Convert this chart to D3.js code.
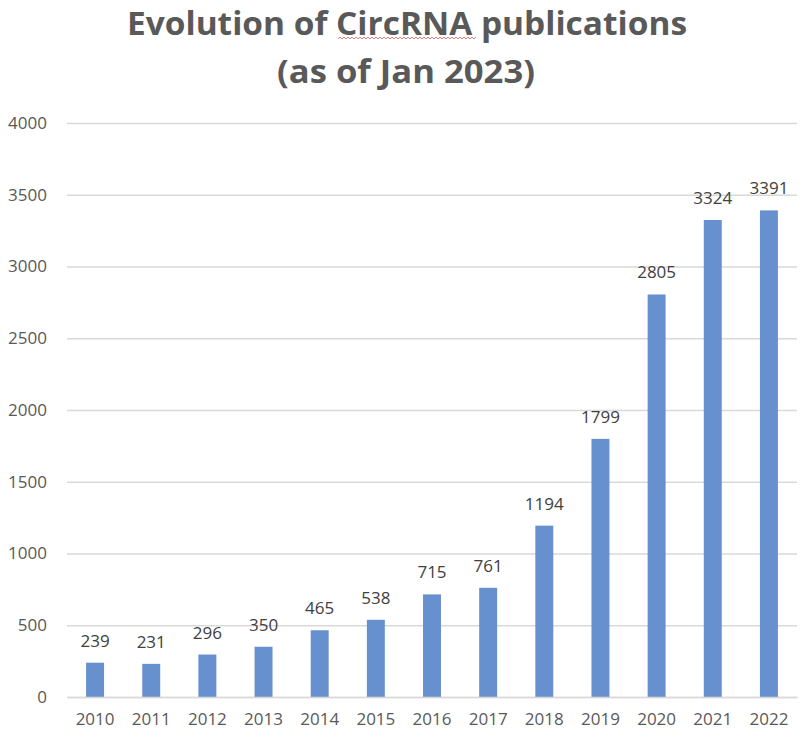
<!DOCTYPE html>
<html>
<head>
<meta charset="utf-8">
<script src="https://cdn.jsdelivr.net/npm/d3@7"></script>
<style>
  body { margin: 0; background: #fff; }
  svg { display: block; font-family: "Open Sans", sans-serif; }
</style>
</head>
<body>
<div id="chart"></div>
<script>
// data
const years = ["2010", "2011", "2012", "2013", "2014", "2015", "2016",
               "2017", "2018", "2019", "2020", "2021", "2022"];
const publications = [239, 231, 296, 350, 465, 538, 715, 761, 1194, 1799, 2805, 3324, 3391];
const yTicks = [0, 500, 1000, 1500, 2000, 2500, 3000, 3500, 4000];

const width = 812, height = 740;
const plotLeft = 67, plotRight = 797, plotTop = 123, plotBottom = 697;

const svg = d3.select("#chart").append("svg")
    .attr("width", width)
    .attr("height", height);

// title (two lines)
const title = svg.append("g")
    .attr("fill", "#595959")
    .attr("font-weight", "bold")
    .attr("font-size", 32);
title.append("text")
    .attr("x", 127).attr("y", 35)
    .attr("textLength", 560)
    .attr("lengthAdjust", "spacingAndGlyphs")
    .text("Evolution of CircRNA publications");
title.append("text")
    .attr("x", 277).attr("y", 83)
    .attr("textLength", 258)
    .attr("lengthAdjust", "spacingAndGlyphs")
    .text("(as of Jan 2023)");

// spell-check squiggle under "CircRNA"
const sq = d3.range(338, 478, 2).map((x, i) => [x, i % 2 ? 37 : 39]);
svg.append("path")
    .attr("d", d3.line()(sq))
    .attr("fill", "none")
    .attr("stroke", "#e0605a")
    .attr("stroke-width", 0.8);

const x = d3.scaleBand()
    .domain(years)
    .range([plotLeft, plotRight])
    .paddingInner(0.68)
    .paddingOuter(0.34);

const y = d3.scaleLinear()
    .domain([0, 4000])
    .range([plotBottom, plotTop]);

// gridlines + y labels
const yAxis = svg.append("g")
    .attr("transform", `translate(${plotLeft},0)`)
    .call(d3.axisLeft(y).tickValues(yTicks).tickFormat(d3.format("d"))
        .tickSize(-(plotRight - plotLeft)).tickPadding(20));
yAxis.select(".domain").remove();
yAxis.selectAll(".tick line")
    .attr("stroke", "#d9d9d9")
    .attr("stroke-width", 1.5);
yAxis.selectAll(".tick text")
    .attr("fill", "#595959")
    .attr("font-size", 17)
    .attr("font-family", "Open Sans, sans-serif");

// bars
svg.append("g")
    .selectAll("rect")
    .data(publications)
    .join("rect")
    .attr("x", (d, i) => x(years[i]))
    .attr("y", d => y(d))
    .attr("width", x.bandwidth())
    .attr("height", d => y(0) - y(d))
    .attr("fill", "#6790cf");

// value labels
svg.append("g")
    .selectAll("text")
    .data(publications)
    .join("text")
    .attr("x", (d, i) => x(years[i]) + x.bandwidth() / 2)
    .attr("y", d => y(d) - 16)
    .attr("text-anchor", "middle")
    .attr("fill", "#404040")
    .attr("font-size", 17)
    .text(d => d);

// x axis
const xAxis = svg.append("g")
    .attr("transform", `translate(0,${plotBottom})`)
    .call(d3.axisBottom(x).tickSize(0).tickPadding(16));
xAxis.select(".domain")
    .attr("stroke", "#d9d9d9")
    .attr("stroke-width", 1.5);
xAxis.selectAll(".tick text")
    .attr("fill", "#595959")
    .attr("font-size", 17)
    .attr("font-family", "Open Sans, sans-serif");
</script>
</body>
</html>
